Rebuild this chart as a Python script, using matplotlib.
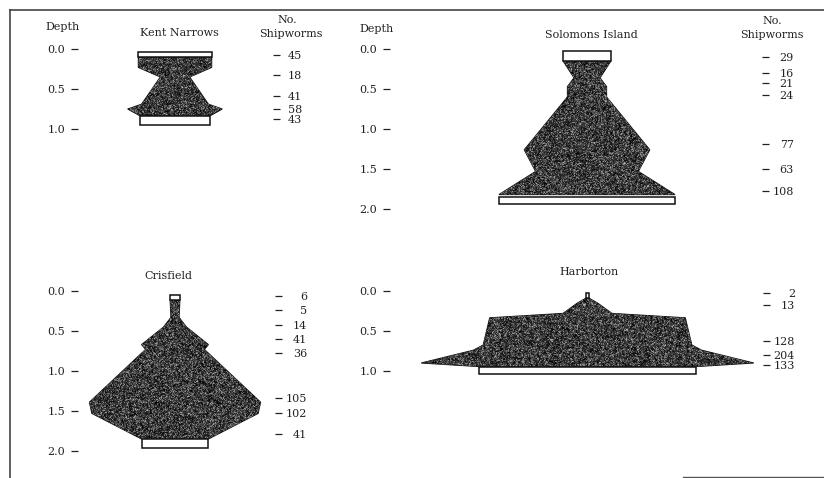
import numpy as np
import matplotlib
matplotlib.use("Agg")
import matplotlib.pyplot as plt
from matplotlib.patches import Polygon, Rectangle
from matplotlib.lines import Line2D

# Shipworm counts by depth (ft) on test panels at four stations.
# *_LABEL_DEPTH: depth of each sample; *_COUNT: shipworms counted there.
# *_OUTLINE_*: profile of the kite (depth, half-width in shipworms).

KENT_LABEL_DEPTH = [0.07, 0.32, 0.59, 0.745, 0.87]
KENT_COUNT = [45, 18, 41, 58, 43]
KENT_OUTLINE_DEPTH = [0.105, 0.23, 0.35, 0.69, 0.75, 0.835]
KENT_OUTLINE_COUNT = [45, 45, 18, 41, 58, 43]
KENT_PANEL_ENDS = [(0.04, 0.105), (0.835, 0.945)]

SOLOMONS_LABEL_DEPTH = [0.095, 0.30, 0.42, 0.58, 1.19, 1.50, 1.78]
SOLOMONS_COUNT = [29, 16, 21, 24, 77, 63, 108]
SOLOMONS_OUTLINE_DEPTH = [0.155, 0.36, 0.43, 0.47, 0.60, 1.26, 1.53, 1.82]
SOLOMONS_OUTLINE_COUNT = [29, 16, 21, 24, 24, 77, 63, 108]
SOLOMONS_PANEL_ENDS = [(0.02, 0.155), (1.855, 1.94)]

CRISFIELD_LABEL_DEPTH = [0.06, 0.24, 0.42, 0.60, 0.77, 1.34, 1.53, 1.79]
CRISFIELD_COUNT = [6, 5, 14, 41, 36, 105, 102, 41]
CRISFIELD_OUTLINE_DEPTH = [0.11, 0.33, 0.45, 0.67, 0.73, 1.39, 1.53, 1.85]
CRISFIELD_OUTLINE_COUNT = [6, 5, 14, 41, 36, 105, 102, 41]
CRISFIELD_PANEL_ENDS = [(0.05, 0.11), (1.85, 1.96)]

HARBORTON_LABEL_DEPTH = [0.02, 0.17, 0.625, 0.80, 0.925]
HARBORTON_COUNT = [2, 13, 128, 204, 133]
HARBORTON_OUTLINE_DEPTH = [0.09, 0.155, 0.28, 0.335, 0.675, 0.74, 0.90, 0.945]
HARBORTON_OUTLINE_COUNT = [2, 13, 30, 120, 128, 140, 204, 133]
HARBORTON_PANEL_ENDS = [(0.02, 0.09), (0.945, 1.04)]

SHORT_DEPTHS = [0.0, 0.5, 1.0]
LONG_DEPTHS = [0.0, 0.5, 1.0, 1.5, 2.0]

W, H = 824, 478
PX_PER_WORM = 0.815
PX_PER_FOOT = 80
INK = "#222222"
FONT = "DejaVu Serif"

plt.rcParams["font.family"] = FONT
rng = np.random.default_rng(7)


def kite(fig, left, right, center, y0, label_depth, counts, out_depth, out_count,
         ends, depth_ticks, count_pad):
    top = y0 - 0.05 * PX_PER_FOOT
    bottom = y0 + 2.1 * PX_PER_FOOT
    ax = fig.add_axes([left / W, 1 - bottom / H, (right - left) / W, (bottom - top) / H])
    x0 = -(center - left) / PX_PER_WORM
    x1 = (right - center) / PX_PER_WORM

    d = np.asarray(out_depth, float)
    c = np.asarray(out_count, float)
    xs = np.concatenate([c, -c[::-1]])
    ys = np.concatenate([d, d[::-1]])
    poly = Polygon(np.column_stack([xs, ys]), closed=True, facecolor="#2a2a2a",
                   edgecolor="#151515", lw=0.8, zorder=2)
    ax.add_patch(poly)

    # grainy fill like the stippled print (softened a little)
    npx_w = int(right - left)
    npx_h = int(bottom - top)
    grain = rng.random((npx_h + 1, npx_w + 1)) ** 2.2 * 0.9
    grain = (grain[:-1, :-1] + grain[1:, :-1] + grain[:-1, 1:] + grain[1:, 1:]) / 4
    grain = 0.5 * grain + 0.5 * rng.random((npx_h, npx_w)) ** 2.6 * 0.8
    im = ax.imshow(grain, cmap="gray", vmin=0, vmax=1, extent=(x0, x1, 2.1, -0.05),
                   aspect="auto", interpolation="nearest", zorder=3)
    im.set_clip_path(poly)

    # white panel ends at top and bottom of the kite
    for (da, db), w in zip(ends, [out_count[0], out_count[-1]]):
        ax.add_patch(Rectangle((-w, da), 2 * w, db - da, facecolor="white",
                               edgecolor="#111111", lw=1.1, zorder=4))

    ax.set_xlim(x0, x1)
    ax.set_ylim(2.1, -0.05)
    for s in ax.spines.values():
        s.set_visible(False)
    ax.set_xticks([])
    ax.set_yticks(depth_ticks)
    ax.set_yticklabels([f"{t:.1f}" for t in depth_ticks])
    ax.tick_params(axis="y", length=5, width=0.9, color=INK, pad=4.3,
                   labelsize=8, labelcolor=INK)

    ax2 = ax.twinx()
    ax2.set_ylim(2.1, -0.05)
    for s in ax2.spines.values():
        s.set_visible(False)
    ax2.set_yticks(label_depth)
    ax2.set_yticklabels([str(n) for n in counts])
    ax2.tick_params(axis="y", length=5, width=0.9, color=INK, pad=count_pad,
                    labelsize=8, labelcolor=INK)
    for lbl in ax2.get_yticklabels():
        lbl.set_horizontalalignment("right")
    return ax


fig = plt.figure(figsize=(W / 100, H / 100), dpi=100)

kite(fig, 78, 273, 175, 49, KENT_LABEL_DEPTH, KENT_COUNT, KENT_OUTLINE_DEPTH,
     KENT_OUTLINE_COUNT, KENT_PANEL_ENDS, SHORT_DEPTHS, 15.8)
kite(fig, 390, 762, 587, 49, SOLOMONS_LABEL_DEPTH, SOLOMONS_COUNT,
     SOLOMONS_OUTLINE_DEPTH, SOLOMONS_OUTLINE_COUNT, SOLOMONS_PANEL_ENDS,
     LONG_DEPTHS, 18)
kite(fig, 78, 275, 175, 291, CRISFIELD_LABEL_DEPTH, CRISFIELD_COUNT,
     CRISFIELD_OUTLINE_DEPTH, CRISFIELD_OUTLINE_COUNT, CRISFIELD_PANEL_ENDS,
     LONG_DEPTHS, 18)
kite(fig, 390, 763, 587.5, 291, HARBORTON_LABEL_DEPTH, HARBORTON_COUNT,
     HARBORTON_OUTLINE_DEPTH, HARBORTON_OUTLINE_COUNT, HARBORTON_PANEL_ENDS,
     SHORT_DEPTHS, 18)


def label(x, y, s):
    fig.text(x / W, 1 - y / H, s, ha="center", va="center", fontsize=8, color=INK)


label(63, 27, "Depth")
label(179, 33, "Kent Narrows")
label(287, 20, "No.")
label(291, 34, "Shipworms")
label(377, 29, "Depth")
label(591, 35, "Solomons Island")
label(772, 21, "No.")
label(772, 35, "Shipworms")
label(168, 276, "Crisfield")
label(589, 272, "Harborton")

# page frame
fig.add_artist(Line2D([10 / W, 1], [1 - 9.5 / H] * 2, color="#444444", lw=1.2))
fig.add_artist(Line2D([10 / W] * 2, [1 - 9.5 / H, 0], color="#444444", lw=1.2))
fig.add_artist(Line2D([683 / W, 1], [1 - 477 / H] * 2, color="#555555", lw=1.0))

fig.savefig("out.png", dpi=100)
